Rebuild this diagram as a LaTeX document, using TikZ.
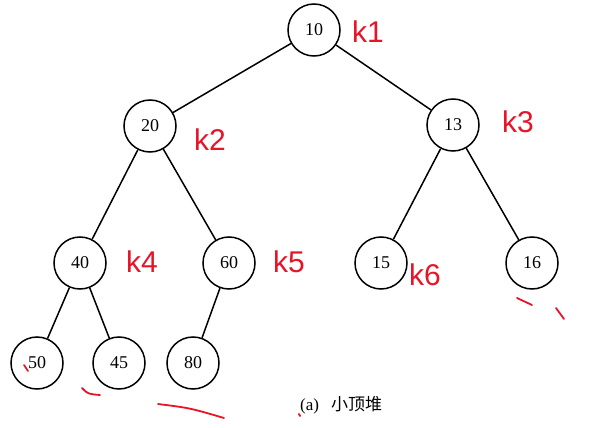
\documentclass[tikz,border=0pt]{standalone}
\usepackage{fontspec}
\setmainfont{Liberation Serif}
\newfontfamily\cjk{Noto Sans CJK SC}
\newfontfamily\hand{Liberation Sans}
\definecolor{inkred}{RGB}{230,20,40}
\begin{document}
\begin{tikzpicture}[x=1pt,y=-1pt,
  heapnode/.style={circle,draw,line width=1.5pt,minimum size=52pt,inner sep=0pt,font=\fontsize{18}{20}\selectfont},
  edge/.style={line width=1.5pt},
  redlabel/.style={text=inkred,font=\hand\fontsize{30}{32}\selectfont},
  redstroke/.style={draw=inkred,line width=1.8pt,line cap=round}]
\useasboundingbox (0,0) rectangle (611,428);
\node[heapnode] (n10) at (314,30) {10};
\node[heapnode] (n20) at (150,126) {20};
\node[heapnode] (n13) at (453,125) {13};
\node[heapnode] (n40) at (80,263) {40};
\node[heapnode] (n60) at (229,263) {60};
\node[heapnode] (n15) at (381,263) {15};
\node[heapnode] (n16) at (532,263) {16};
\node[heapnode] (n50) at (37,363) {50};
\node[heapnode] (n45) at (119,363) {45};
\node[heapnode] (n80) at (193,363) {80};
\draw[edge] (n10) -- (n20);
\draw[edge] (n10) -- (n13);
\draw[edge] (n20) -- (n40);
\draw[edge] (n20) -- (n60);
\draw[edge] (n13) -- (n15);
\draw[edge] (n13) -- (n16);
\draw[edge] (n40) -- (n50);
\draw[edge] (n40) -- (n45);
\draw[edge] (n60) -- (n80);
\node[font=\fontsize{17}{19}\selectfont,anchor=west,inner sep=0pt] (cap) at (300,405) {(a)\hspace{12pt}{\cjk 小顶堆}};
\node[redlabel] (k1) at (368,32) {k1};
\node[redlabel] (k2) at (210,140) {k2};
\node[redlabel] (k3) at (518,122) {k3};
\node[redlabel] (k4) at (142,262) {k4};
\node[redlabel] (k5) at (289,262) {k5};
\node[redlabel] (k6) at (425,275) {k6};
\coordinate (s1a) at (517,298); \coordinate (s1b) at (532,305);
\coordinate (s2a) at (556,308); \coordinate (s2b) at (564,319);
\coordinate (s3a) at (24,365); \coordinate (s3b) at (28,371);
\coordinate (s4a) at (82,388); \coordinate (s4b) at (100,395);
\coordinate (s5a) at (158,404); \coordinate (s5b) at (224,418);
\coordinate (s6a) at (299,414); \coordinate (s6b) at (300,416);
\draw[redstroke] (s1a) -- (s1b);
\draw[redstroke] (s2a) -- (s2b);
\draw[redstroke] (s3a) -- (s3b);
\draw[redstroke] (s4a) .. controls (88,394) .. (s4b);
\draw[redstroke] (s5a) .. controls (190,408) .. (s5b);
\draw[redstroke] (s6a) -- (s6b);
\end{tikzpicture}
\end{document}
